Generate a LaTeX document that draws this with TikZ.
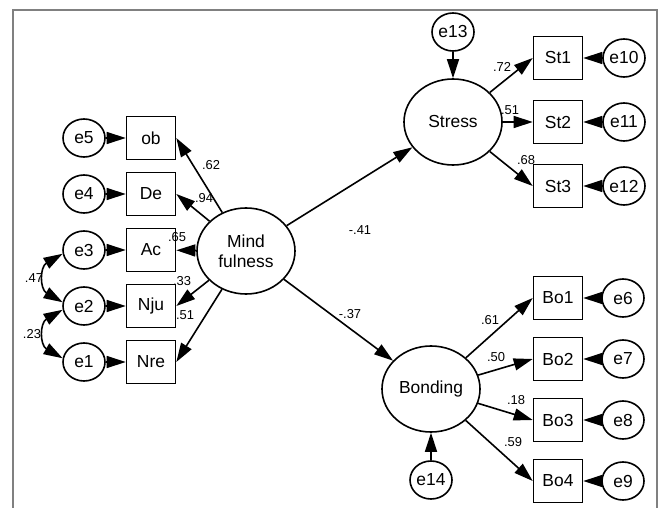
\documentclass[tikz,border=0pt]{standalone}
\usepackage{fontspec}
\setmainfont{Liberation Sans}
\usetikzlibrary{shapes.geometric,arrows.meta,positioning}

\begin{document}
\begin{tikzpicture}[x=1bp,y=1bp,line width=1.6bp,
	>={Triangle[length=19bp,width=12bp]}]
\tikzstyle{latent}=[ellipse, inner sep=0pt, draw=black,
	minimum width=98bp, minimum height=86bp, align=center,
	font=\fontsize{17.5}{20}\selectfont]
\tikzstyle{obs}=[rectangle, inner sep=0pt, draw=black,
	minimum width=49bp, minimum height=43bp,
	font=\fontsize{17.5}{20}\selectfont]
\tikzstyle{err}=[ellipse, inner sep=0pt, draw=black,
	minimum width=42bp, minimum height=38bp,
	font=\fontsize{17.5}{20}\selectfont]
\tikzstyle{coef}=[inner sep=0pt, font=\fontsize{13}{14}\selectfont]

\useasboundingbox (0,0) rectangle (661,-508);
\draw[gray, line width=1.6bp] (13,-508) -- (13,-10) -- (657,-10) -- (657,-508);

% latent variables
\node[latent] (mind) at (246,-251) {Mind\\fulness};
\node[latent] (stress) at (453,-122) {Stress};
\node[latent] (bond) at (431,-389) {Bonding};

% mindfulness indicators
\node[obs] (ob) at (151,-138) {ob};
\node[obs, node distance=56bp, below of = ob] (de) {De};
\node[obs, node distance=56bp, below of = de] (ac) {Ac};
\node[obs, node distance=56bp, below of = ac] (nju) {Nju};
\node[obs, node distance=56bp, below of = nju] (nre) {Nre};
\node[err, node distance=67bp, left of = ob] (e5) {e5};
\node[err, node distance=67bp, left of = de] (e4) {e4};
\node[err, node distance=67bp, left of = ac] (e3) {e3};
\node[err, node distance=67bp, left of = nju] (e2) {e2};
\node[err, node distance=67bp, left of = nre] (e1) {e1};

% stress indicators
\node[obs] (st1) at (558,-58) {St1};
\node[obs, node distance=64bp, below of = st1] (st2) {St2};
\node[obs, node distance=64bp, below of = st2] (st3) {St3};
\node[err, node distance=66bp, right of = st1] (e10) {e10};
\node[err, node distance=66bp, right of = st2] (e11) {e11};
\node[err, node distance=66bp, right of = st3] (e12) {e12};
\node[err, node distance=90bp, above of = stress] (e13) {e13};

% bonding indicators
\node[obs] (bo1) at (558,-298) {Bo1};
\node[obs, node distance=61bp, below of = bo1] (bo2) {Bo2};
\node[obs, node distance=61bp, below of = bo2] (bo3) {Bo3};
\node[obs, node distance=61bp, below of = bo3] (bo4) {Bo4};
\node[err, node distance=65bp, right of = bo1] (e6) {e6};
\node[err, node distance=65bp, right of = bo2] (e7) {e7};
\node[err, node distance=65bp, right of = bo3] (e8) {e8};
\node[err, node distance=65bp, right of = bo4] (e9) {e9};
\node[err, node distance=91bp, below of = bond] (e14) {e14};

% paths
\path[->] (mind) edge (ob.east) ;
\path[->] (mind) edge (de.east) ;
\path[->] (mind) edge (ac) ;
\path[->] (mind) edge (nju.east) ;
\path[->] (mind) edge (nre.east) ;
\path[->] (mind) edge (stress) ;
\path[->] (mind) edge (bond) ;
\path[->] (stress) edge (st1.west) ;
\path[->] (stress) edge (st2) ;
\path[->] (stress) edge (st3.west) ;
\path[->] (bond) edge (bo1.west) ;
\path[->] (bond) edge (bo2.west) ;
\path[->] (bond) edge (bo3.west) ;
\path[->] (bond) edge (bo4.west) ;

% error terms
\path[->] (e5) edge (ob) ;
\path[->] (e4) edge (de) ;
\path[->] (e3) edge (ac) ;
\path[->] (e2) edge (nju) ;
\path[->] (e1) edge (nre) ;
\path[->] (e10) edge (st1) ;
\path[->] (e11) edge (st2) ;
\path[->] (e12) edge (st3) ;
\path[->] (e13) edge (stress) ;
\path[->] (e6) edge (bo1) ;
\path[->] (e7) edge (bo2) ;
\path[->] (e8) edge (bo3) ;
\path[->] (e9) edge (bo4) ;
\path[->] (e14) edge (bond) ;

% covariances
\path[<->] (e3.190) edge[out=210, in=150, looseness=1.4] (e2.170) ;
\path[<->] (e2.190) edge[out=210, in=150, looseness=1.4] (e1.170) ;

% coefficients
\node[coef] (c62) at (211,-165) {.62};
\node[coef] (c94) at (204,-198) {.94};
\node[coef] (c65) at (177,-237) {.65};
\node[coef] (c33) at (182,-281) {.33};
\node[coef] (c51a) at (185,-315) {.51};
\node[coef] (c47) at (34,-278) {.47};
\node[coef] (c23) at (32,-334) {.23};
\node[coef] (c41) at (360,-230) {-.41};
\node[coef] (c37) at (350,-314) {-.37};
\node[coef] (c72) at (502,-67) {.72};
\node[coef] (c51b) at (510,-110) {.51};
\node[coef] (c68) at (526,-160) {.68};
\node[coef] (c61) at (490,-320) {.61};
\node[coef] (c50) at (496,-357) {.50};
\node[coef] (c18) at (516,-400) {.18};
\node[coef] (c59) at (513,-442) {.59};

\end{tikzpicture}
\end{document}
